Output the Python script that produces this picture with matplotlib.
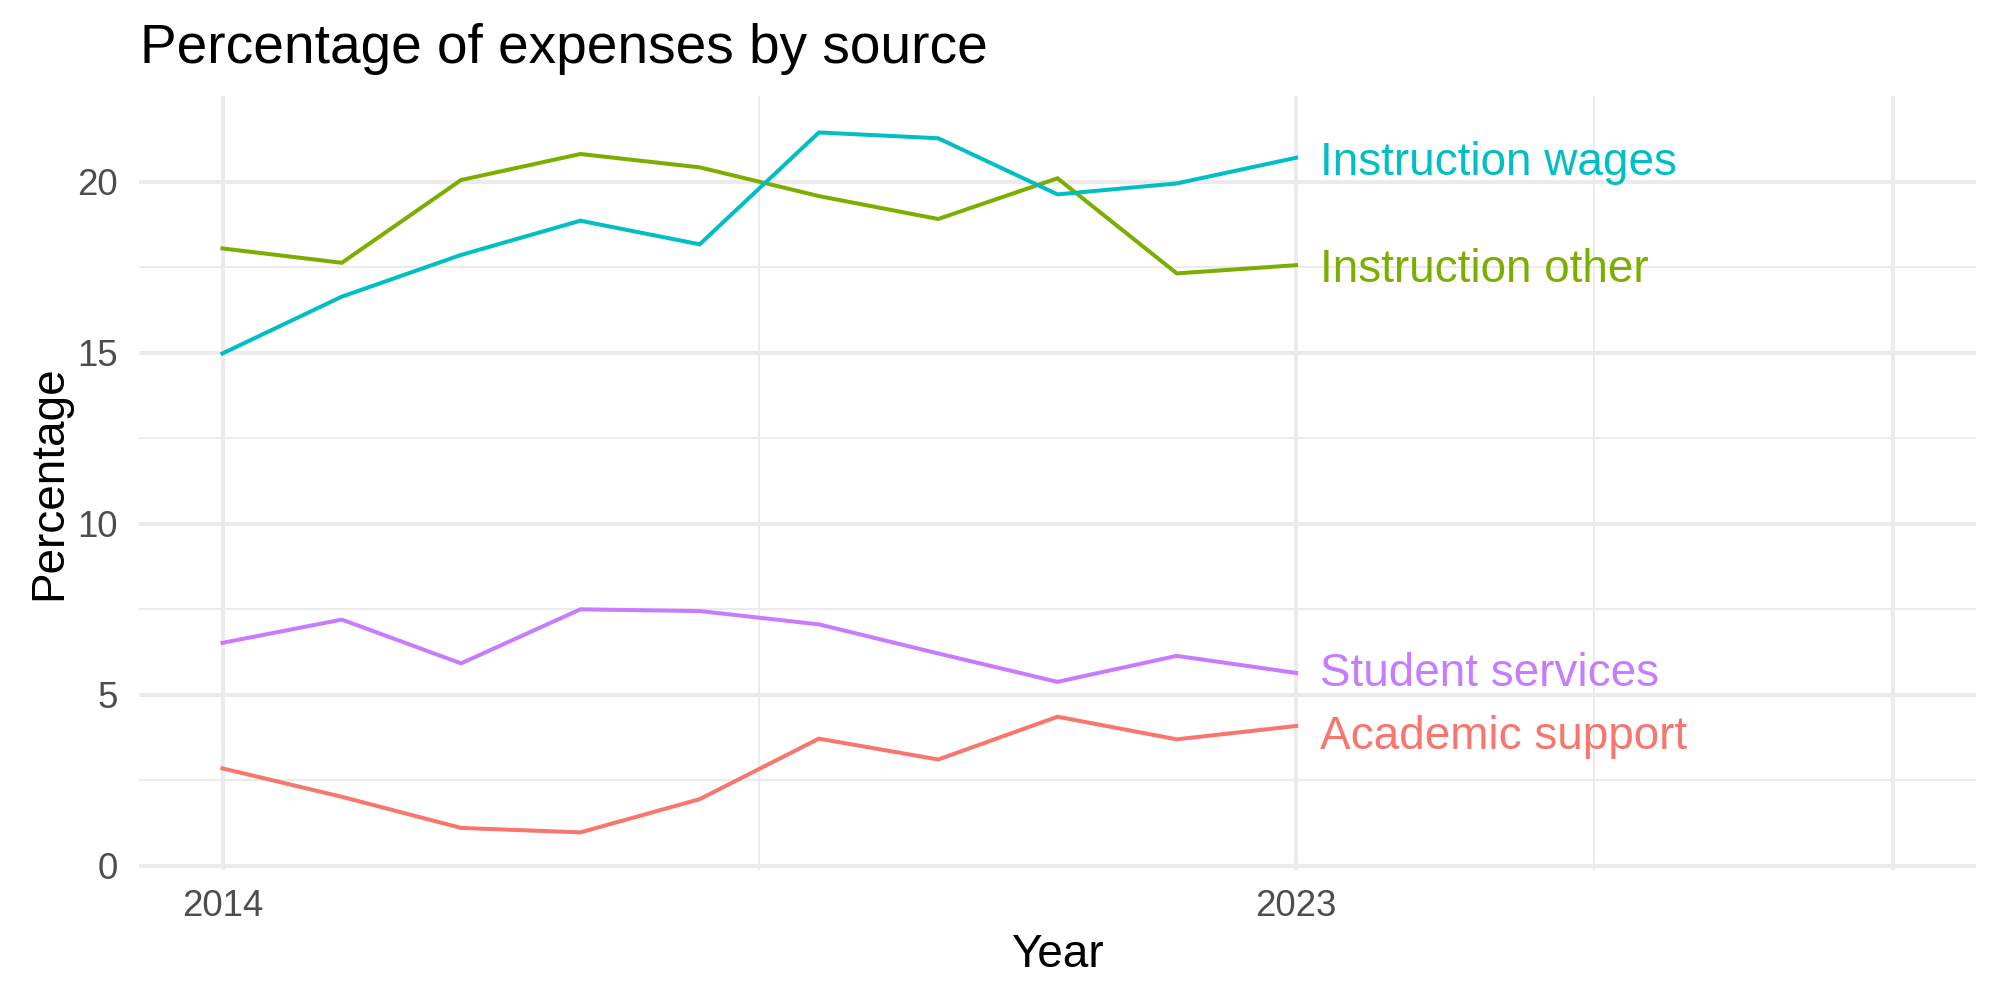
#!/usr/bin/python
# Percentage of expenses by source, with line-end labels instead of a legend.

import matplotlib
matplotlib.use("Agg")
import matplotlib.pyplot as plt

years = [2014, 2015, 2016, 2017, 2018, 2019, 2020, 2021, 2022, 2023]

academic_support = [2.85, 2.02, 1.11, 0.98, 1.95, 3.72, 3.11, 4.36, 3.70, 4.09]
instruction_other = [18.05, 17.63, 20.05, 20.81, 20.42, 19.58, 18.91, 20.10, 17.32, 17.56]
instruction_wages = [14.98, 16.64, 17.86, 18.86, 18.17, 21.44, 21.27, 19.63, 19.95, 20.70]
student_services = [6.52, 7.20, 5.92, 7.50, 7.45, 7.06, 6.21, 5.38, 6.14, 5.64]

series_names = ["Academic support", "Instruction other", "Instruction wages", "Student services"]
series_values = [academic_support, instruction_other, instruction_wages, student_services]
colors = ["#F8766D", "#7CAE00", "#00BFC4", "#C77CFF"]
# small vertical nudges so labels don't collide
label_nudge = [-0.17, 0.0, 0.0, 0.13]

x_breaks = [2014, 2023, 2028]
x_labels = ["2014", "2023", ""]
x_minor = [2018.5, 2025.5]
y_breaks = [0, 5, 10, 15, 20]
y_minor = [2.5, 7.5, 12.5, 17.5]

plt.rcParams["font.family"] = ["Liberation Sans", "DejaVu Sans"]

fig = plt.figure(figsize=(10, 5), dpi=200)
ax = fig.add_axes([0.0695, 0.130, 0.9185, 0.7738])

for name, vals, col, dy in zip(series_names, series_values, colors, label_nudge):
  ax.plot(years, vals, color=col, linewidth=1.45, solid_joinstyle="miter", zorder=3)
  ax.text(years[-1] + 0.2, vals[-1] + dy, name, color=col, fontsize=16.5,
          ha="left", va="center_baseline", zorder=4)

ax.set_xlim(2013.3, 2028.7)
ax.set_ylim(-0.12, 22.5)

ax.set_xticks(x_breaks)
ax.set_xticklabels(x_labels)
ax.set_xticks(x_minor, minor=True)
ax.set_yticks(y_breaks)
ax.set_yticks(y_minor, minor=True)

ax.grid(which="major", color="#EBEBEB", linewidth=1.45, zorder=0)
ax.grid(which="minor", color="#EBEBEB", linewidth=0.72, zorder=0)
ax.set_axisbelow(True)

ax.tick_params(which="both", length=0, labelsize=13.2, labelcolor="#4D4D4D")
ax.tick_params(axis="x", pad=7.0)
ax.tick_params(axis="y", pad=7.6)
for s in ax.spines.values():
  s.set_visible(False)

fig.text(140 / 2000, 1 - 63 / 1000, "Percentage of expenses by source",
         fontsize=19.8, ha="left", va="baseline")
fig.text(1057 / 2000, 1 - 967 / 1000, "Year", fontsize=16.5,
         ha="center", va="baseline")
fig.text(61 / 2000, 1 - 483 / 1000, "Percentage", fontsize=16.5, rotation=90,
         rotation_mode="anchor", ha="center", va="baseline")

fig.savefig("out.png", dpi=200, facecolor="white")
